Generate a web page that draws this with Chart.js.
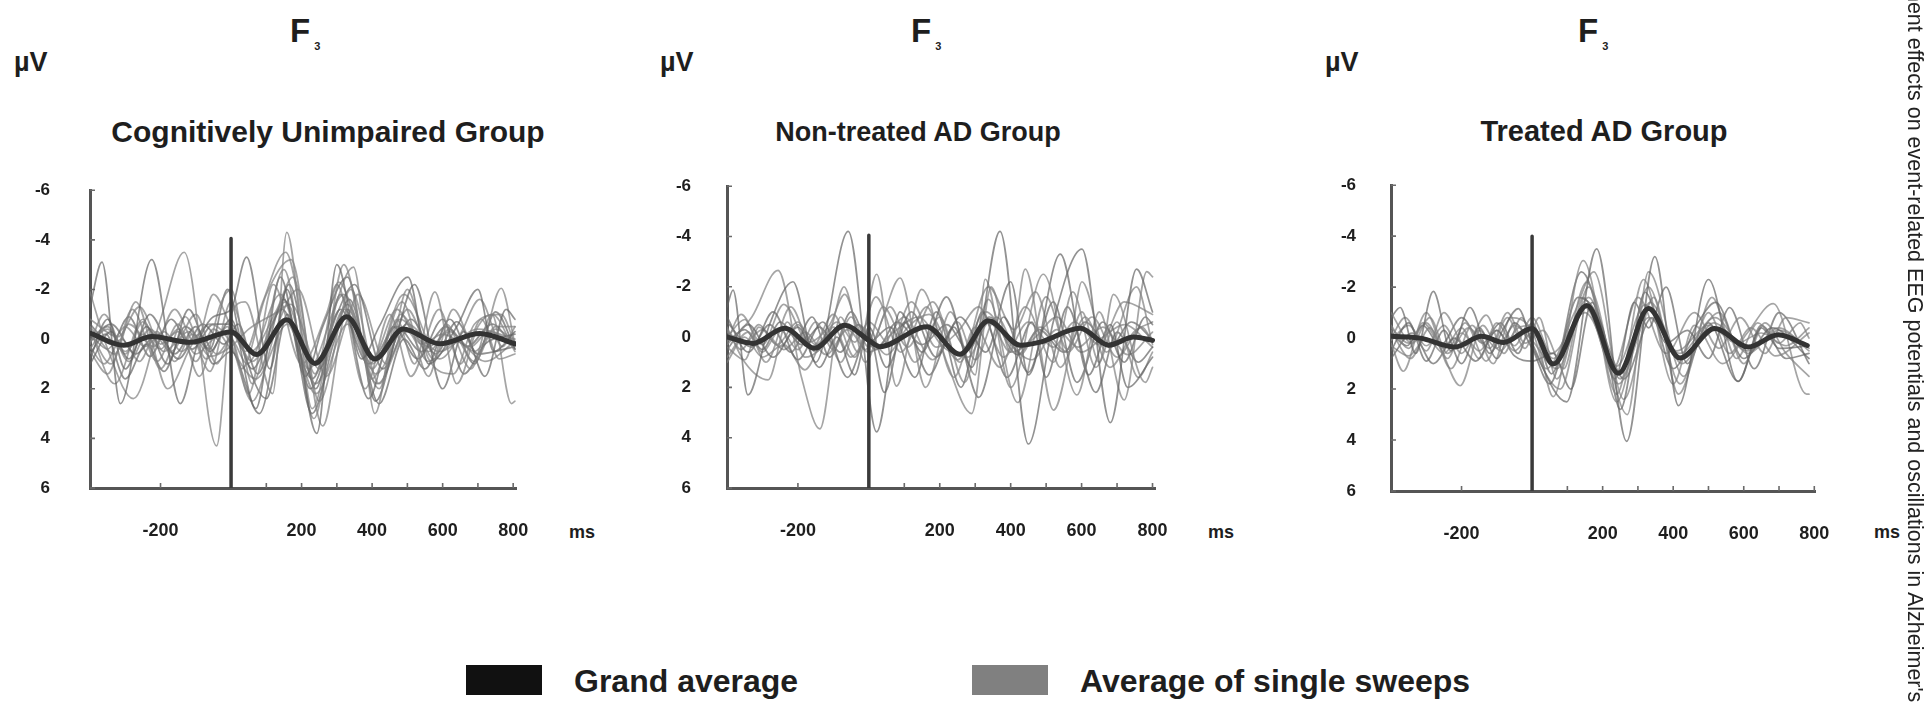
<!DOCTYPE html>
<html>
<head>
<meta charset="utf-8">
<script src="https://cdn.jsdelivr.net/npm/chart.js@4.4.1/dist/chart.umd.min.js"></script>
<style>
  html, body { margin:0; padding:0; background:#fff; }
  body { width:1925px; height:703px; position:relative; overflow:hidden;
         font-family:"Liberation Sans", Arial, sans-serif; color:#1e1e1e; }
  .t { position:absolute; white-space:nowrap; }
  .sub { font-size:11px; position:relative; top:8px; margin-left:4px; }
  canvas { position:absolute; }
  .box { position:absolute; }
  .vert { position:absolute; white-space:nowrap; transform-origin:0 0; transform:rotate(90deg);
          font-weight:normal; color:#222; }
</style>
</head>
<body>
<script>
// ---------------- DATA ----------------
const xTickValues  = [-200, 0, 100, 200, 300, 400, 500, 600, 700, 800];
const xLabelValues = [-200, 200, 400, 600, 800];
const yTickValues  = [-6, -4, -2, 0, 2, 4, 6];
const panelTitles  = ['Cognitively Unimpaired Group', 'Non-treated AD Group', 'Treated AD Group'];
const electrode    = 'F';
const electrodeSub = '3';
const unitY = 'µV';
const unitX = 'ms';
const legendLabels = ['Grand average', 'Average of single sweeps'];
const sideNote = "ment effects on event-related EEG potentials and oscillations in Alzheimer's";
const stimTop = [-4.05, -4.05, -4.0];   // top of the stimulus marker (µV)

// [ms, µV] ; negative up
const cuGrand = [[-398,-0.23],[-305,0.25],[-225,-0.1],[-116,0.13],[0,-0.29],[73,0.62],[158,-0.78],[238,0.98],[328,-0.9],[408,0.8],[488,-0.41],[592,0.19],[705,-0.23],[805,0.19]];
const cuSweeps = [
 [[-400,-1.3],[-366,-3.1],[-314,2.6],[-225,-3.2],[-144,2.6],[-95,0.2],[-50,-0.9],[0,-1.2],[44,-3.3],[110,1.2],[158,-2.0],[243,3.8],[300,-3.0],[370,0.8],[420,-0.5],[502,-2.5],[560,1.0],[640,-0.5],[700,-2.0],[745,0.5],[805,-0.3]],
 [[-400,-1.9],[-350,0.4],[-277,2.4],[-200,-0.8],[-133,-3.5],[-41,4.3],[0,-1.0],[40,-1.5],[118,2.2],[158,-4.3],[230,2.8],[300,-1.5],[347,-2.9],[408,3.0],[470,-0.8],[520,1.0],[578,-1.9],[640,1.8],[700,-0.5],[740,-1.0],[795,2.6],[805,2.5]],
 [[-400,-0.3],[-340,1.0],[-280,-1.2],[-210,0.9],[-150,-0.6],[-90,1.5],[-30,-1.4],[0,-2.0],[60,1.8],[150,-2.8],[235,3.2],[320,-3.0],[400,1.6],[485,-1.5],[560,1.5],[610,-0.6],[680,1.2],[740,-1.0],[805,0.5]],
 [[-400,0.8],[-350,-0.8],[-300,1.2],[-240,-0.5],[-180,1.0],[-120,-1.2],[-60,0.5],[0,-0.8],[70,2.8],[140,-2.5],[210,1.5],[260,-0.5],[330,-2.5],[410,2.5],[470,-0.2],[520,-2.2],[600,2.0],[660,-0.3],[720,1.5],[780,-1.2],[805,-0.8]],
 [[-400,-0.5],[-330,0.6],[-270,-1.5],[-200,1.2],[-130,-0.9],[-70,0.8],[-10,-0.5],[30,1.2],[100,-1.8],[170,-3.2],[250,2.5],[340,-2.0],[420,1.8],[500,-1.2],[575,0.8],[630,-1.2],[700,0.6],[766,-2.05],[805,0.2]],
 [[-400,0.2],[-360,-1.0],[-290,0.9],[-230,-0.4],[-170,0.5],[-100,-1.0],[-40,1.0],[0,0.0],[50,2.2],[120,-2.2],[200,1.0],[270,-1.0],[300,-2.2],[380,2.0],[450,-1.0],[510,1.5],[590,-1.2],[650,1.0],[710,-0.8],[760,0.8],[805,0.6]],
 [[-400,1.0],[-340,-0.3],[-290,0.8],[-230,-1.0],[-160,0.6],[-100,-0.5],[-50,1.0],[0,0.5],[80,3.0],[165,-2.2],[240,2.0],[310,-1.8],[390,2.4],[460,-0.5],[530,0.8],[600,-0.8],[660,1.4],[720,0.2],[805,-0.2]],
 [[-400,0.5],[-350,1.4],[-290,-0.6],[-220,0.3],[-160,-1.2],[-100,0.2],[-50,-1.8],[0,-0.5],[40,0.5],[90,-1.5],[155,-3.5],[238,1.4],[305,-2.3],[400,1.2],[490,-1.8],[592,0.8],[650,-0.2],[705,-1.6],[770,0.3],[805,-0.5]],
 [[-400,-0.8],[-320,-0.1],[-260,-1.3],[-190,0.5],[-120,-0.3],[-60,1.3],[0,-1.5],[55,0.5],[130,-1.2],[175,-2.5],[260,3.5],[330,-1.2],[420,2.0],[480,-1.0],[560,0.5],[620,-0.4],[690,0.9],[750,-0.5],[805,-0.5]],
 [[-400,0.0],[-340,-0.6],[-270,0.6],[-210,-0.2],[-150,0.8],[-80,-0.6],[-20,0.2],[20,-0.6],[75,1.4],[150,-1.6],[225,2.0],[300,-1.0],[350,-2.2],[430,1.2],[510,-0.8],[580,0.6],[640,-0.7],[700,0.6],[805,0.3]],
 [[-400,-0.4],[-330,1.8],[-250,-0.8],[-180,2.0],[-110,0.2],[-60,-0.6],[0,0.2],[60,2.5],[130,-0.5],[190,-2.0],[270,1.5],[330,-0.8],[360,-1.8],[440,1.0],[500,-2.0],[560,0.8],[630,1.4],[690,-0.6],[766,-1.0],[805,0.2]],
 [[-400,0.4],[-350,-0.5],[-300,0.5],[-250,-0.2],[-200,0.4],[-150,-0.4],[-100,0.6],[-50,0.0],[0,-0.3],[60,0.9],[155,-1.5],[240,1.8],[330,-1.4],[410,1.4],[500,-0.6],[590,0.5],[700,-0.4],[805,0.0]],
 [[-400,0.6],[-355,-0.2],[-300,1.6],[-240,0.2],[-190,1.3],[-130,-0.5],[-60,0.4],[-10,-2.0],[30,0.2],[100,2.4],[160,-1.0],[230,3.0],[290,0.2],[335,-1.6],[420,2.6],[490,0.0],[550,1.2],[620,-0.8],[690,1.0],[750,-1.1],[805,0.4]],
 [[-400,-0.2],[-350,0.4],[-300,-0.5],[-245,0.3],[-190,-0.3],[-140,0.5],[-90,-0.2],[-40,0.6],[0,0.0],[45,1.0],[140,-1.8],[220,1.2],[320,-1.8],[400,0.8],[470,-1.2],[540,0.2],[600,-0.2],[680,0.3],[730,-0.3],[805,0.2]],
 [[-400,0.3],[-360,1.0],[-310,0.0],[-260,0.9],[-210,-0.3],[-160,0.9],[-110,-0.2],[-60,0.7],[0,0.3],[50,-0.4],[120,-1.0],[170,-1.4],[250,1.2],[320,-1.2],[400,1.0],[480,-0.8],[560,0.3],[620,-0.3],[690,0.5],[750,-0.4],[805,0.1]],
 [[-400,-0.6],[-340,0.2],[-290,-0.9],[-230,0.7],[-170,-0.8],[-110,0.4],[-50,-0.6],[0,-0.6],[60,1.2],[145,-1.2],[230,1.6],[310,-1.2],[390,1.0],[470,-0.5],[540,0.5],[610,-0.5],[670,0.3],[740,-0.6],[805,0.4]],
 [[-400,0.1],[-350,-0.4],[-300,0.6],[-250,-0.7],[-200,0.2],[-150,-0.3],[-100,0.9],[-50,-0.4],[0,0.4],[70,1.6],[160,-0.6],[240,2.2],[330,-0.6],[415,1.8],[500,-0.3],[560,0.9],[640,0.1],[720,0.9],[805,0.1]]
];

const ntGrand = [[-398,0.0],[-327,0.25],[-237,-0.35],[-153,0.44],[-68,-0.47],[0,0.13],[31,0.38],[163,-0.41],[257,0.68],[337,-0.65],[427,0.32],[483,0.2],[596,-0.35],[676,0.32],[747,0.0],[800,0.13]];
const ntSweeps = [
 [[-400,-1.2],[-383,-1.87],[-341,2.3],[-280,-0.5],[-214,-2.2],[-150,1.0],[-58,-4.2],[22,3.77],[88,-1.0],[150,0.6],[219,-1.6],[290,1.2],[370,-4.2],[450,4.25],[520,-0.6],[601,-3.5],[681,3.4],[755,-2.7],[800,-1.0]],
 [[-400,0.3],[-330,-0.8],[-256,-2.65],[-190,1.6],[-138,3.65],[-80,-0.8],[-30,0.6],[22,-2.5],[78,1.95],[149,-1.9],[220,1.0],[290,3.04],[345,-2.0],[400,0.6],[441,-2.7],[521,2.9],[601,-1.0],[650,1.0],[690,-1.7],[780,1.8],[800,1.2]],
 [[-400,-0.4],[-350,1.0],[-284,1.7],[-230,-0.6],[-180,0.8],[-110,-0.2],[-70,-2.0],[-10,1.0],[40,-0.8],[88,-2.35],[160,2.0],[230,-1.0],[300,1.5],[328,-2.3],[400,2.0],[492,-2.5],[587,2.3],[650,-1.0],[720,2.5],[784,-2.6],[800,-2.4]],
 [[-400,0.5],[-340,-0.5],[-270,0.8],[-200,-0.4],[-140,1.2],[-90,0.0],[-40,1.5],[0,-0.4],[50,1.2],[120,-1.0],[190,0.8],[257,-0.8],[330,0.6],[400,-2.2],[450,1.5],[540,-3.3],[620,1.5],[681,-0.5],[730,2.0],[800,0.8]],
 [[-400,0.0],[-350,-0.7],[-300,0.6],[-250,-0.3],[-200,0.5],[-150,-0.6],[-100,0.5],[-50,-0.8],[0,0.4],[60,-1.2],[130,1.0],[200,-0.8],[270,1.8],[337,-1.5],[420,2.6],[500,-1.6],[560,0.5],[601,-2.2],[670,0.6],[755,-2.0],[800,0.3]],
 [[-400,0.8],[-340,-0.2],[-290,1.0],[-220,-1.2],[-160,0.4],[-100,-0.9],[-40,0.8],[20,-1.6],[90,0.6],[163,-1.2],[240,1.6],[300,-0.4],[370,1.2],[441,-1.2],[521,1.0],[575,-1.8],[640,1.2],[700,-0.6],[760,1.6],[800,0.6]],
 [[-400,-0.6],[-330,0.4],[-270,-1.0],[-200,0.9],[-130,-0.6],[-60,1.6],[0,-0.2],[44,2.2],[100,-0.6],[170,1.5],[240,-0.4],[310,2.4],[380,-0.8],[450,1.4],[520,-1.4],[587,1.8],[660,-0.6],[720,1.0],[780,-0.8],[800,-0.5]],
 [[-400,0.2],[-360,-0.9],[-300,0.3],[-240,-1.3],[-170,0.2],[-110,-0.5],[-68,-1.7],[-10,0.5],[40,-1.2],[110,0.4],[180,-1.4],[257,1.0],[337,-2.0],[410,-0.3],[470,-1.8],[540,1.2],[610,-0.8],[680,1.2],[747,-0.2],[800,-0.6]],
 [[-400,1.0],[-350,0.0],[-300,0.8],[-240,0.3],[-180,1.3],[-120,0.0],[-80,1.0],[-30,-0.5],[31,0.4],[100,-0.8],[180,0.9],[250,-0.6],[300,0.9],[360,-0.8],[427,0.7],[483,-0.4],[560,0.6],[630,-0.8],[700,0.8],[770,-0.4],[800,0.2]],
 [[-400,-0.8],[-340,0.6],[-280,-0.5],[-220,0.6],[-160,-0.8],[-110,0.8],[-50,-1.0],[0,0.2],[60,-0.4],[130,1.6],[190,-1.0],[260,2.0],[320,-1.0],[390,1.6],[460,-0.6],[500,1.6],[560,-1.2],[640,2.2],[700,-0.2],[760,1.0],[800,0.4]],
 [[-400,0.4],[-350,0.9],[-310,-0.4],[-250,0.4],[-200,-0.5],[-150,0.3],[-90,-0.6],[-40,0.2],[0,-0.6],[60,0.3],[120,-1.4],[190,0.4],[250,-0.2],[310,-1.2],[380,0.8],[450,-0.6],[520,0.4],[580,-0.6],[650,0.3],[720,-1.4],[800,-0.9]],
 [[-400,-0.2],[-350,0.2],[-300,-0.3],[-240,0.5],[-180,-0.2],[-120,0.7],[-60,-0.3],[0,0.6],[70,-0.2],[140,-0.8],[210,0.4],[280,0.8],[340,-0.6],[400,0.6],[470,0.0],[530,-0.8],[600,0.6],[660,0.0],[720,-0.5],[800,0.4]],
 [[-400,0.2],[-350,-0.3],[-300,0.5],[-250,-0.6],[-190,0.3],[-140,-0.4],[-80,0.6],[-30,-0.5],[20,0.5],[80,-0.6],[150,0.3],[220,-0.5],[280,0.5],[340,-0.8],[420,0.7],[480,-0.3],[550,0.6],[610,-0.6],[680,0.4],[740,-0.6],[800,0.1]],
 [[-400,-0.3],[-360,0.5],[-310,-0.5],[-260,0.3],[-200,-0.6],[-150,0.6],[-100,-0.4],[-50,0.8],[0,0.0],[50,0.7],[110,-0.4],[170,-0.9],[250,0.9],[330,-1.0],[400,0.3],[460,0.9],[530,-0.3],[590,0.4],[660,-0.4],[730,0.7],[800,-0.2]]
];

const trGrand = [[-398,-0.07],[-317,0.0],[-218,0.35],[-143,-0.07],[-81,0.17],[0,-0.38],[60,1.02],[155,-1.28],[245,1.38],[330,-1.16],[419,0.78],[518,-0.38],[613,0.35],[698,-0.13],[780,0.29]];
const trSweeps = [
 [[-400,-0.8],[-374,-1.2],[-330,0.6],[-280,-1.83],[-230,0.5],[-176,-1.2],[-120,0.6],[-80,-0.4],[-39,-1.16],[0,0.2],[98,2.5],[183,-3.5],[268,4.05],[348,-3.2],[415,2.65],[500,-2.3],[584,1.7],[650,-0.4],[700,0.4],[785,0.3]],
 [[-400,0.2],[-365,1.3],[-310,-0.6],[-260,0.4],[-204,1.87],[-140,-0.5],[-90,0.5],[-40,-0.4],[0,-0.5],[60,2.3],[145,-3.04],[240,2.2],[316,-2.3],[400,1.8],[460,-0.5],[540,1.0],[610,-0.2],[684,-1.35],[778,2.2],[785,2.2]],
 [[-400,-0.5],[-350,0.4],[-300,-1.0],[-240,0.8],[-190,-0.6],[-130,0.9],[-70,-0.8],[-20,0.4],[20,-0.8],[70,1.6],[155,-2.2],[240,2.5],[330,-2.0],[420,1.8],[500,-1.0],[560,0.6],[620,-0.4],[690,0.7],[785,-0.2]],
 [[-400,0.5],[-350,-0.6],[-300,0.9],[-250,-0.3],[-200,1.0],[-150,-0.4],[-100,0.8],[-50,-0.6],[0,0.4],[50,1.8],[130,-1.6],[200,-0.4],[250,2.8],[320,-1.8],[400,1.2],[470,-0.6],[520,-1.4],[600,0.8],[680,-0.4],[785,0.8]],
 [[-400,-0.3],[-345,0.8],[-290,-0.4],[-230,1.2],[-170,-0.5],[-110,1.0],[-60,-0.8],[0,-0.3],[40,1.2],[120,-1.0],[175,-2.6],[260,2.4],[345,-1.6],[415,2.2],[480,-0.2],[530,-1.0],[600,1.0],[660,-0.6],[720,0.6],[785,1.5]],
 [[-400,0.0],[-360,-0.8],[-300,0.5],[-250,-1.0],[-190,0.3],[-130,-0.9],[-80,0.6],[-30,-0.8],[10,0.6],[80,2.0],[160,-2.0],[270,3.0],[330,-2.6],[430,1.5],[510,-1.6],[580,0.8],[640,-0.6],[700,0.2],[760,-0.6],[785,0.0]],
 [[-400,0.8],[-340,-0.2],[-280,1.0],[-220,0.0],[-160,0.9],[-100,-0.3],[-50,0.7],[0,0.9],[60,0.6],[110,2.0],[170,-1.4],[235,1.6],[290,-1.4],[330,-0.4],[380,-2.0],[440,1.0],[500,-0.6],[584,1.7],[650,-0.5],[720,0.8],[785,0.6]],
 [[-400,-1.0],[-340,0.2],[-290,-0.8],[-240,0.6],[-180,-0.4],[-120,0.4],[-70,-1.0],[-20,0.2],[30,-0.3],[90,1.2],[145,-1.6],[230,1.2],[300,-1.6],[380,0.6],[460,-1.0],[530,0.4],[590,-0.8],[660,0.6],[720,-0.8],[785,-0.6]],
 [[-400,0.3],[-350,0.7],[-300,0.0],[-250,0.6],[-200,-0.2],[-150,0.5],[-100,-0.3],[-50,0.5],[0,-0.2],[60,0.8],[150,-1.2],[245,1.8],[330,-0.8],[419,0.6],[518,-0.8],[613,0.6],[698,-0.4],[785,0.5]],
 [[-400,-0.2],[-355,0.3],[-310,-0.5],[-260,0.3],[-200,-0.8],[-140,0.2],[-90,-0.6],[-40,0.6],[0,-0.6],[55,1.4],[140,-2.6],[220,0.5],[260,1.6],[340,-0.8],[380,0.2],[440,-0.3],[500,0.8],[560,-1.2],[630,1.2],[700,-1.0],[785,1.0]],
 [[-400,0.1],[-350,-0.5],[-300,0.3],[-250,-0.5],[-200,0.6],[-150,-0.3],[-100,0.4],[-50,-0.5],[0,0.1],[70,1.2],[160,-1.6],[250,1.6],[335,-1.4],[425,1.0],[515,-0.6],[610,0.5],[700,-0.3],[785,0.4]],
 [[-400,-0.4],[-350,0.2],[-300,-0.6],[-250,0.4],[-200,-0.4],[-150,0.8],[-100,-0.6],[-50,0.3],[0,-0.8],[55,0.6],[150,-1.0],[240,1.1],[320,-1.3],[410,0.5],[500,-0.5],[580,0.2],[650,-0.2],[720,0.3],[785,-0.4]]
];

// ---------------- LAYOUT ----------------
const FONT = '"Liberation Sans", Arial, sans-serif';
const panels = [
  { grand: cuGrand, sweeps: cuSweeps, stim: stimTop[0], left: 90,   top: 158, right: 516,  bottom: 488, xmax: 808, yPad: 40,
    fX: 290, muX: 14,  titleX: 328,  titleFs: 30, msX: 582 },
  { grand: ntGrand, sweeps: ntSweeps, stim: stimTop[1], left: 727,  top: 158, right: 1155, bottom: 488, xmax: 807, yPad: 36,
    fX: 911, muX: 660, titleX: 918,  titleFs: 27, msX: 1221 },
  { grand: trGrand, sweeps: trSweeps, stim: stimTop[2], left: 1391, top: 161, right: 1815, bottom: 491, xmax: 802, yPad: 35,
    fX: 1578, muX: 1325, titleX: 1604, titleFs: 29, msX: 1887 }
];

function txt(html, x, base, fs, weight, center) {
  const d = document.createElement('div');
  d.className = 't';
  d.innerHTML = html;
  d.style.fontSize = fs + 'px';
  d.style.lineHeight = fs + 'px';
  d.style.fontWeight = weight;
  d.style.top = (base - 0.8465 * fs) + 'px';
  d.style.left = x + 'px';
  if (center) d.style.transform = 'translateX(-50%)';
  document.body.appendChild(d);
  return d;
}

const inwardTicks = {
  id: 'inwardTicks',
  beforeDatasetsDraw(chart) {
    const { ctx, chartArea: a, scales: { x, y } } = chart;
    ctx.save();
    ctx.strokeStyle = '#6a6a6a';
    ctx.lineWidth = 1.6;
    ctx.beginPath();
    xTickValues.forEach(v => { const p = x.getPixelForValue(v); ctx.moveTo(p, a.bottom); ctx.lineTo(p, a.bottom - 5); });
    yTickValues.forEach(v => { const p = y.getPixelForValue(v); ctx.moveTo(a.left, p); ctx.lineTo(a.left + 5, p); });
    ctx.stroke();
    ctx.restore();
  }
};

const CW = 620, CH = 420, CTOP = 140, YW = 91;

panels.forEach((p, i) => {
  txt(electrode + '<span class="sub">' + electrodeSub + '</span>', p.fX, 42, 33, 'bold', false);
  txt(unitY, p.muX, 72, 27, 'bold', false);
  txt(panelTitles[i], p.titleX, 142, p.titleFs, 'bold', true);
  txt(unitX, p.msX, 538, 18, 'bold', true);

  const cv = document.createElement('canvas');
  cv.width = CW; cv.height = CH;
  cv.style.left = (p.left - YW) + 'px';
  cv.style.top = CTOP + 'px';
  cv.style.width = CW + 'px'; cv.style.height = CH + 'px';
  document.body.appendChild(cv);

  const areaW = p.right - p.left;
  const want = { left: YW, top: p.top - CTOP, right: YW + areaW, bottom: p.bottom - CTOP };
  const fit = { yw: YW, xh: CH - want.bottom };
  let pad = { left: 0, top: want.top, right: CW - want.right, bottom: 0 };

  const datasets = [];
  datasets.push({ data: p.grand.map(d => ({ x: d[0], y: d[1] })), borderColor: '#333333', borderWidth: 5,
                  pointRadius: 0, cubicInterpolationMode: 'monotone', order: 0 });
  datasets.push({ data: [{ x: 0, y: p.stim }, { x: 0, y: 6 }], borderColor: '#3a3a3a', borderWidth: 3.5,
                  pointRadius: 0, tension: 0, order: 1 });
  p.sweeps.forEach((s, k) => {
    datasets.push({ data: s.map(d => ({ x: d[0], y: d[1] })),
                    borderColor: k % 3 === 0 ? 'rgba(100,100,100,0.70)' : 'rgba(130,130,130,0.72)',
                    borderWidth: 1.7, pointRadius: 0, cubicInterpolationMode: 'monotone', order: 2 });
  });

  const chart = new Chart(cv, {
    type: 'line',
    data: { datasets },
    plugins: [inwardTicks],
    options: {
      responsive: false, animation: false, devicePixelRatio: 1,
      layout: { padding: pad },
      plugins: { legend: { display: false }, tooltip: { enabled: false }, title: { display: false } },
      elements: { line: { borderCapStyle: 'round', borderJoinStyle: 'round' } },
      scales: {
        x: {
          type: 'linear', min: -400, max: p.xmax,
          afterFit: s => { s.height = fit.xh; },
          afterBuildTicks: s => { s.ticks = xTickValues.map(v => ({ value: v })); },
          grid: { display: false, drawTicks: false },
          border: { display: true, color: '#555', width: 3 },
          ticks: {
            autoSkip: false, maxRotation: 0, padding: 32, color: '#1e1e1e',
            font: { family: FONT, size: 18, weight: 'bold' },
            callback: v => xLabelValues.includes(v) ? String(v) : ''
          }
        },
        y: {
          type: 'linear', min: -6, max: 6, reverse: true,
          afterFit: s => { s.width = fit.yw; },
          afterBuildTicks: s => { s.ticks = yTickValues.map(v => ({ value: v })); },
          grid: { display: false, drawTicks: false },
          border: { display: true, color: '#555', width: 3 },
          ticks: {
            padding: p.yPad, color: '#1e1e1e',
            font: { family: FONT, size: 17, weight: 'bold' },
            callback: v => String(v)
          }
        }
      }
    }
  });

  for (let it = 0; it < 5; it++) {
    const a = chart.chartArea;
    const dT = want.top - a.top, dB = want.bottom - a.bottom, dL = want.left - a.left, dR = want.right - a.right;
    if (Math.abs(dT) < 0.5 && Math.abs(dB) < 0.5 && Math.abs(dL) < 0.5 && Math.abs(dR) < 0.5) break;
    pad = { left: pad.left, top: pad.top + dT, right: pad.right - dR, bottom: pad.bottom };
    fit.yw += dL;
    fit.xh -= dB;
    chart.options.layout.padding = pad;
    chart.update('none');
  }
});

// legend
const lg = [
  { box: 466, w: 76, color: '#111111', text: 574 },
  { box: 972, w: 76, color: '#808080', text: 1080 }
];
lg.forEach((l, i) => {
  const b = document.createElement('div');
  b.className = 'box';
  b.style.left = l.box + 'px'; b.style.top = '665px';
  b.style.width = l.w + 'px'; b.style.height = '30px';
  b.style.background = l.color;
  document.body.appendChild(b);
  txt(legendLabels[i], l.text, 692, 32, 'bold', false);
});

// rotated side note
const v = document.createElement('div');
v.className = 'vert';
v.textContent = sideNote;
v.style.fontSize = '21.5px';
v.style.lineHeight = '21.5px';
v.style.left = '1925px';
v.style.top = '-16px';
document.body.appendChild(v);
</script>
</body>
</html>
